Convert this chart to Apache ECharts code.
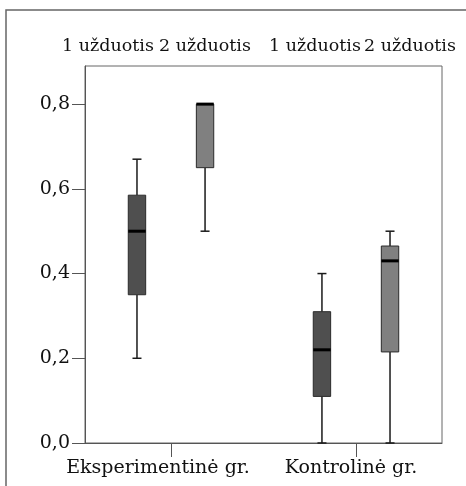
<!DOCTYPE html>
<html>
<head>
<meta charset="utf-8">
<script src="https://cdn.jsdelivr.net/npm/echarts@6/dist/echarts.min.js"></script>
<style>
  html, body { margin: 0; padding: 0; background: #fff; }
  #chart { width: 466px; height: 486px; }
</style>
</head>
<body>
<div id="chart"></div>
<script>
// groups on the x axis, one box per task inside each group
const groups = ['Eksperimentinė gr.', 'Kontrolinė gr.']
const taskNames = ['1 užduotis', '2 užduotis', '1 užduotis', '2 užduotis']
// [min, q1, median, q3, max] per group
const task1 = [
  [0.20, 0.35, 0.50, 0.585, 0.67],
  [0.00, 0.11, 0.22, 0.31, 0.40]
]
const task2 = [
  [0.50, 0.65, 0.80, 0.80, 0.80],
  [0.00, 0.215, 0.43, 0.465, 0.50]
]
const yTicks = [0, 0.2, 0.4, 0.6, 0.8]

const font = '"DejaVu Serif", "Liberation Serif", serif'

const chart = echarts.init(document.getElementById('chart'))

const boxItem = (offset, fill) => (params, api) => {
  const x = api.value(0)
  const unit = api.size([1, 0])[0]
  const cx = api.coord([x, 0])[0] + offset * unit
  const y = k => api.coord([x, api.value(k)])[1]
  const hw = 8.7
  const cap = 4.5
  const line = { stroke: '#1a1a1a', lineWidth: 1.5 }
  return {
    type: 'group',
    children: [
      { type: 'line', shape: { x1: cx, y1: y(1), x2: cx, y2: y(2) }, style: line },
      { type: 'line', shape: { x1: cx, y1: y(4), x2: cx, y2: y(5) }, style: line },
      { type: 'line', shape: { x1: cx - cap, y1: y(1), x2: cx + cap, y2: y(1) }, style: line },
      { type: 'line', shape: { x1: cx - cap, y1: y(5), x2: cx + cap, y2: y(5) }, style: line },
      {
        type: 'rect',
        shape: { x: cx - hw, y: y(4), width: hw * 2, height: y(2) - y(4) },
        style: { fill: fill, stroke: '#2a2a2a', lineWidth: 1 }
      },
      {
        type: 'line',
        shape: { x1: cx - hw, y1: y(3), x2: cx + hw, y2: y(3) },
        style: { stroke: '#000', lineWidth: 3 }
      }
    ]
  }
}

const toData = arr => arr.map((v, i) => [i].concat(v))

const labelX = [108, 205, 315, 410]

const option = {
  animation: false,
  backgroundColor: '#fff',
  grid: { left: 85, right: 24, top: 66, bottom: 43, show: true, borderColor: '#666', borderWidth: 1 },
  xAxis: {
    type: 'value',
    min: -0.465,
    max: 1.465,
    axisLine: { show: true, onZero: false, lineStyle: { color: '#555', width: 1 } },
    axisTick: { show: true, customValues: [0, 1], length: 14, lineStyle: { color: '#555' } },
    axisLabel: {
      customValues: [0, 1],
      // labels sit a little left of their ticks in the original
      formatter: v => (Math.round(v) === 0 ? '{a|' : '{b|') + groups[Math.round(v)] + '}',
      color: '#111',
      fontFamily: font,
      fontSize: 19,
      margin: 16,
      rich: {
        a: { fontFamily: font, fontSize: 19, color: '#111', padding: [0, 26, 0, 0] },
        b: { fontFamily: font, fontSize: 19, color: '#111', padding: [0, 10, 0, 0] }
      }
    },
    splitLine: { show: false }
  },
  yAxis: {
    type: 'value',
    min: 0,
    max: 0.89,
    axisLine: { show: true, onZero: false, lineStyle: { color: '#555', width: 1 } },
    axisTick: { show: true, customValues: yTicks, length: 13, lineStyle: { color: '#555' } },
    axisLabel: {
      customValues: yTicks,
      formatter: v => v.toFixed(1).replace('.', ','),
      color: '#111',
      fontFamily: font,
      fontSize: 19,
      margin: 15
    },
    splitLine: { show: false }
  },
  graphic: [
    {
      type: 'polyline',
      shape: { points: [[6, 490], [6, 10], [470, 10]] },
      style: { stroke: '#666', lineWidth: 1.5, fill: null }
    }
  ].concat(taskNames.map((t, i) => ({
    type: 'text',
    x: labelX[i],
    y: 46,
    style: {
      text: t,
      fill: '#111',
      font: '17.5px ' + font,
      textAlign: 'center',
      textVerticalAlign: 'middle'
    }
  }))),
  series: [
    {
      name: '1 užduotis',
      type: 'custom',
      renderItem: boxItem(-0.184, '#4f4f4f'),
      encode: { x: 0, y: [1, 2, 3, 4, 5] },
      data: toData(task1)
    },
    {
      name: '2 užduotis',
      type: 'custom',
      renderItem: boxItem(0.184, '#808080'),
      encode: { x: 0, y: [1, 2, 3, 4, 5] },
      data: toData(task2)
    }
  ]
}

chart.setOption(option)
</script>
</body>
</html>
